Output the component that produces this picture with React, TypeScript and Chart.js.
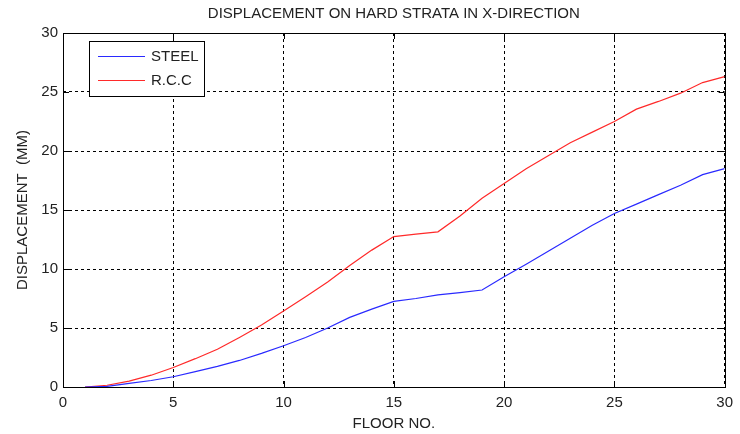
import React, { useEffect, useRef } from 'react';
import { Chart, registerables } from 'chart.js';

Chart.register(...registerables);

const titleText = 'DISPLACEMENT ON HARD STRATA IN X-DIRECTION';
const xAxisLabel = 'FLOOR NO.';
const yAxisLabel = 'DISPLACEMENT  (MM)';
const floors = [1, 2, 3, 4, 5, 6, 7, 8, 9, 10, 11, 12, 13, 14, 15, 16, 17, 18, 19, 20, 21, 22, 23, 24, 25, 26, 27, 28, 29, 30];
const steel = [0, 0.05, 0.3, 0.55, 0.87, 1.3, 1.75, 2.25, 2.85, 3.5, 4.2, 5.0, 5.9, 6.6, 7.25, 7.5, 7.8, 8.0, 8.22, 9.35, 10.4, 11.5, 12.6, 13.7, 14.7, 15.5, 16.3, 17.1, 18.0, 18.5];
const rcc = [0, 0.15, 0.5, 1.0, 1.65, 2.4, 3.2, 4.2, 5.25, 6.45, 7.65, 8.9, 10.3, 11.6, 12.75, 12.95, 13.15, 14.5, 16.0, 17.25, 18.5, 19.6, 20.7, 21.6, 22.5, 23.55, 24.2, 24.9, 25.8, 26.3];
const seriesNames = ['STEEL', 'R.C.C'];
const seriesColors = ['#2a2aff', '#ff2a2a'];
const axisMin = 0;
const axisMax = 30;
const tickStep = 5;

const FONT = "'Liberation Sans', Arial, sans-serif";
const FS = 15;

const framePlugin = {
  id: 'matlabFrame',
  afterDraw(chart: any) {
    const { ctx, chartArea } = chart;
    const { left, right, top, bottom } = chartArea;
    ctx.save();
    ctx.strokeStyle = '#000';
    ctx.lineWidth = 1;
    ctx.setLineDash([]);
    ctx.strokeRect(Math.round(left) + 0.5, Math.round(top) + 0.5, Math.round(right - left), Math.round(bottom - top));
    const tl = 6;
    const xs = chart.scales.x;
    const ys = chart.scales.y;
    ctx.beginPath();
    xs.ticks.forEach((t: any) => {
      const px = Math.round(xs.getPixelForValue(t.value)) + 0.5;
      ctx.moveTo(px, bottom);
      ctx.lineTo(px, bottom - tl);
      ctx.moveTo(px, top);
      ctx.lineTo(px, top + tl);
    });
    ys.ticks.forEach((t: any) => {
      const py = Math.round(ys.getPixelForValue(t.value)) + 0.5;
      ctx.moveTo(left, py);
      ctx.lineTo(left + tl, py);
      ctx.moveTo(right, py);
      ctx.lineTo(right - tl, py);
    });
    ctx.stroke();

    // title
    ctx.fillStyle = '#222';
    ctx.font = `${FS}px ${FONT}`;
    ctx.textAlign = 'center';
    ctx.textBaseline = 'middle';
    ctx.fillText(titleText, (left + right) / 2, 14);

    // legend
    const bx = Math.round(left) + 26;
    const by = Math.round(top) + 8;
    const bw = 115;
    const bh = 55;
    ctx.fillStyle = '#fff';
    ctx.fillRect(bx, by, bw, bh);
    ctx.strokeStyle = '#000';
    ctx.strokeRect(bx + 0.5, by + 0.5, bw, bh);
    ctx.font = `${FS}px ${FONT}`;
    ctx.textAlign = 'left';
    chart.data.datasets.forEach((ds: any, i: number) => {
      const ly = by + 15 + i * 24;
      ctx.strokeStyle = ds.borderColor;
      ctx.lineWidth = 1.2;
      ctx.beginPath();
      ctx.moveTo(bx + 9, ly + 0.5);
      ctx.lineTo(bx + 56, ly + 0.5);
      ctx.stroke();
      ctx.fillStyle = '#222';
      ctx.fillText(ds.label, bx + 62, ly + 1);
    });
    ctx.restore();
  },
};

export default function App() {
  const ref = useRef<HTMLCanvasElement | null>(null);
  useEffect(() => {
    document.body.style.margin = '0';
    const canvas = ref.current;
    if (!canvas) return;
    const chart = new Chart(canvas, {
      type: 'line',
      data: {
        datasets: [steel, rcc].map((vals, i) => ({
          label: seriesNames[i],
          data: floors.map((f, j) => ({ x: f, y: vals[j] })),
          borderColor: seriesColors[i],
          backgroundColor: seriesColors[i],
          borderWidth: 1.2,
          pointRadius: 0,
          tension: 0,
          fill: false,
        })),
      },
      options: {
        responsive: false,
        animation: false,
        layout: { padding: { top: 33, right: 15, left: 0, bottom: 0 } },
        plugins: {
          legend: { display: false },
          title: { display: false },
          tooltip: { enabled: false },
        },
        scales: {
          x: {
            type: 'linear',
            min: axisMin,
            max: axisMax,
            afterFit: (s: any) => { s.height = 47; },
            ticks: { stepSize: tickStep, color: '#222', font: { family: FONT, size: FS }, padding: 7, maxRotation: 0 },
            grid: { color: '#000', drawTicks: false, lineWidth: 1 },
            border: { display: false, dash: [3, 3] },
            title: { display: true, text: xAxisLabel, color: '#222', font: { family: FONT, size: FS }, padding: { top: 0, bottom: 1 } },
          },
          y: {
            type: 'linear',
            min: axisMin,
            max: axisMax,
            afterFit: (s: any) => { s.width = 63; },
            ticks: { stepSize: tickStep, color: '#222', font: { family: FONT, size: FS }, padding: 5 },
            grid: { color: '#000', drawTicks: false, lineWidth: 1 },
            border: { display: false, dash: [3, 3] },
            title: { display: true, text: yAxisLabel, color: '#222', font: { family: FONT, size: FS }, padding: { top: 14, bottom: 0 } },
          },
        },
      },
      plugins: [framePlugin],
    });
    return () => chart.destroy();
  }, []);
  return (
    <div style={{ width: 740, height: 434 }}>
      <canvas ref={ref} width={740} height={434} style={{ display: 'block', width: 740, height: 434 }} />
    </div>
  );
}
